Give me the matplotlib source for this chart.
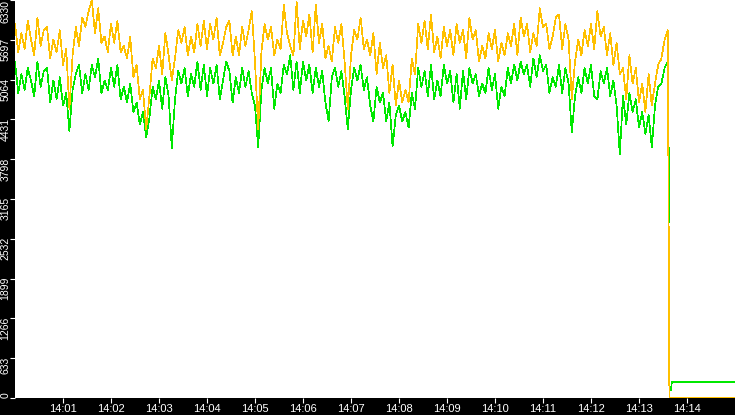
import numpy as np
import matplotlib.pyplot as plt
import matplotlib.transforms as mtransforms

# samples every 4 s from 14:00:00, then the drop at ~14:13:38
step = 4
orange = [
    5950, 5500, 5800, 5550, 6000, 5700, 5450, 6050, 5600, 5850,
    5900, 5400, 5700, 5500, 5850, 5300, 5550, 4600, 5450, 5900,
    5600, 6050, 5900, 6150, 6330, 5800, 6200, 5650, 5750, 5500,
    5950, 5650, 6000, 5500, 5600, 5400, 5750, 5100, 5300, 4750,
    4900, 4270, 4800, 5400, 5250, 5600, 5150, 5800, 5450, 5050,
    5400, 5850, 5650, 5900, 5450, 5750, 5500, 5950, 5600, 6000,
    5550, 5950, 5700, 6050, 5450, 5650, 5900, 6000, 5450, 5750,
    5450, 5900, 5600, 5850, 6150, 5350, 4270, 5500, 5950, 5700,
    5900, 5450, 5700, 5550, 6250, 5800, 5600, 5450, 6300, 5550,
    6000, 5750, 6100, 5500, 6250, 5650, 5950, 5400, 5600, 5350,
    5900, 5650, 5950, 5350, 4590, 5450, 5850, 5700, 6050, 5550,
    5700, 5450, 5800, 5150, 5650, 5250, 5450, 4850, 5300, 4650,
    5050, 4700, 4900, 4700, 5400, 5150, 5950, 5650, 6000, 5550,
    6100, 5500, 5750, 5400, 5900, 5600, 5850, 5450, 5950, 5650,
    5850, 5400, 6050, 5700, 5850, 5350, 5600, 5400, 5800, 5550,
    5850, 5350, 5650, 5450, 5800, 5600, 5950, 5450, 6050, 5750,
    5950, 5500, 5800, 5600, 6200, 5900, 5950, 5550, 5750, 6050,
    6100, 5550, 5950, 5700, 4750, 5350, 5700, 5450, 5850, 5600,
    5950, 5550, 6150, 5750, 5900, 5450, 5800, 5300, 5650, 5150,
    5250, 4750, 5450, 5000, 5250, 4700, 5000, 4550, 5150, 4650,
    5000, 5300, 5400, 5700, 5850,
]
green = [
    5350, 4850, 5150, 4900, 5250, 5050, 4800, 5350, 4950, 5200,
    5250, 4700, 5050, 4750, 5100, 4650, 4850, 4250, 4900, 5150,
    5300, 4850, 5150, 4900, 5300, 5100, 5400, 4850, 5050, 4900,
    5250, 4950, 5300, 4750, 4950, 4700, 5000, 4550, 4700, 4350,
    4550, 4150, 4450, 4950, 4750, 5050, 4600, 5100, 4800, 3980,
    4750, 5200, 5000, 5250, 4800, 5150, 4950, 5350, 4900, 5300,
    4800, 5250, 5000, 5300, 4750, 5050, 5350, 5200, 4700, 5100,
    4850, 5250, 4950, 5200, 4850, 4650, 3990, 4900, 5250, 5000,
    5250, 4600, 5000, 4850, 5300, 5150, 5450, 4900, 5350, 4850,
    5350, 5050, 5300, 4850, 5250, 4950, 5200, 4700, 4400, 5100,
    5250, 4950, 5200, 4800, 4270, 4900, 5250, 5050, 5300, 4900,
    5100, 4650, 4400, 4950, 4700, 4850, 4400, 4700, 4000, 4500,
    4650, 4400, 4550, 4300, 4850, 4600, 5250, 4950, 5200, 4800,
    5300, 4750, 5050, 4800, 5300, 5000, 5200, 4700, 5150, 4600,
    5200, 4750, 5250, 5000, 5150, 4800, 5000, 4850, 5250, 4900,
    5150, 4600, 4950, 4800, 5250, 5000, 5300, 5050, 5350, 5150,
    5300, 4950, 5400, 5100, 5450, 5200, 5300, 4850, 5100, 4950,
    5300, 4850, 5250, 5000, 4220, 4800, 5100, 4850, 5250, 5000,
    5300, 4800, 4750, 5200, 5000, 5250, 4800, 5050, 4650, 3880,
    4800, 4350, 4850, 4550, 4750, 4300, 4550, 4200, 4500, 3990,
    4650, 4950, 5000, 5250, 5350,
]
# after the drop: seconds after 14:00 and values (nan = gap in the line)
tail_t = [818, 819, 820, 821, 900]
tail_orange = [0, 0, 0, 0, 0]
tail_green = [2800, np.nan, 120, 250, 250]

xticklabels = ['14:01', '14:02', '14:03', '14:04', '14:05', '14:06', '14:07',
               '14:08', '14:09', '14:10', '14:11', '14:12', '14:13', '14:14']
yticks = [0, 633, 1266, 1899, 2532, 3165, 3798, 4431, 5064, 5697, 6330]

t = list(np.arange(len(orange)) * step) + tail_t
o = orange + tail_orange
g = green + tail_green

plt.rcParams['font.family'] = ['Liberation Sans', 'DejaVu Sans']

fig = plt.figure(figsize=(7.35, 4.15), dpi=100, facecolor='black')
ax = fig.add_axes([15 / 735, 17 / 415, 720 / 735, 398 / 415])
ax.set_facecolor('white')

ax.plot(t, g, color='#00E800', lw=0.5, antialiased=False, zorder=2)
ax.plot(t, o, color='#FFC000', lw=0.5, antialiased=False, zorder=3)

ax.set_xlim(0, 900)
ax.set_ylim(0, 6330)
for s in ax.spines.values():
    s.set_visible(False)

ax.set_xticks([60 * (i + 1) for i in range(len(xticklabels))])
ax.set_xticklabels(xticklabels)
ax.set_yticks(yticks)
ax.set_yticklabels([])
ax.tick_params(colors='white', length=3.6, width=0.8)
ax.tick_params(axis='x', pad=0.5, labelsize=8)

# rotated y labels sitting just under each tick
trans = mtransforms.blended_transform_factory(fig.transFigure, ax.transData)
for v in yticks:
    if v == 0:
        y, va = v, 'bottom'
    elif v == yticks[-1]:
        y, va = v, 'top'
    else:
        y, va = v + 30, 'top'
    ax.text(5.5 / 735, y, str(v), transform=trans, rotation=90, color='white',
            fontsize=7.5, ha='center', va=va, clip_on=False)

fig.savefig('out.png', dpi=100, facecolor='black')
